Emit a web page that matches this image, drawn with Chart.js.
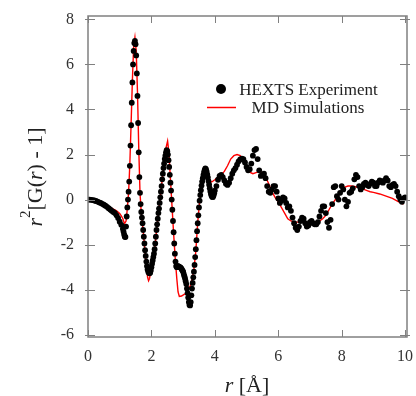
<!DOCTYPE html>
<html>
<head>
<meta charset="utf-8">
<script src="https://cdn.jsdelivr.net/npm/chart.js@4.4.1/dist/chart.umd.min.js"></script>
<style>
  html, body { margin: 0; padding: 0; background: #fff; }
  #wrap { width: 416px; height: 396px; position: relative; }
</style>
</head>
<body>
<div id="wrap"><canvas id="gr_chart"></canvas></div>
<script>
// HEXTS experiment: r (Å) and r^2[G(r)-1]
const expR = [
  0, 0.05, 0.1, 0.15, 0.2, 0.25, 0.3, 0.35, 0.4, 0.45, 0.5, 0.55, 0.6, 0.65, 0.7, 0.75, 0.8, 0.85, 0.9, 0.95, 1.0, 1.05, 1.1,
  1.12, 1.14, 1.16, 1.18, 1.2, 1.22, 1.24, 1.26, 1.28, 1.3, 1.32, 1.34, 1.36, 1.38, 1.4, 1.42, 1.44, 1.46, 1.48, 1.5,
  1.52, 1.54, 1.56, 1.58, 1.6, 1.62, 1.64, 1.66, 1.68, 1.7, 1.72, 1.74, 1.76, 1.78, 1.8, 1.82, 1.84, 1.86, 1.88, 1.9,
  1.92, 1.94, 1.96, 1.98, 2.0, 2.02, 2.04, 2.06, 2.08, 2.1, 2.12, 2.14, 2.16, 2.18, 2.2, 2.22, 2.24, 2.26, 2.28, 2.3,
  2.32, 2.34, 2.36, 2.38, 2.4, 2.42, 2.44, 2.46, 2.48, 2.5, 2.52, 2.54, 2.56, 2.58, 2.6, 2.62, 2.64, 2.66, 2.68, 2.7,
  2.72, 2.74, 2.76, 2.78, 2.8, 2.82, 2.84, 2.86, 2.88, 2.9, 2.92, 2.94, 2.96, 2.98, 3.0, 3.02, 3.04, 3.06, 3.08, 3.1,
  3.12, 3.14, 3.16, 3.18, 3.2, 3.22, 3.24, 3.26, 3.28, 3.3, 3.32, 3.34, 3.36, 3.38, 3.4, 3.42, 3.44, 3.46, 3.48, 3.5,
  3.52, 3.54, 3.56, 3.58, 3.6, 3.62, 3.64, 3.66, 3.68, 3.7, 3.72, 3.74, 3.76, 3.78, 3.8, 3.82, 3.84, 3.86, 3.88, 3.9,
  3.92, 3.94, 3.96, 3.98, 4.0,
  4.05, 4.1, 4.15, 4.2, 4.25, 4.3, 4.35, 4.4, 4.45, 4.5, 4.55, 4.6, 4.65, 4.7, 4.75, 4.8, 4.85, 4.9, 4.95, 5.0,
  5.05, 5.1, 5.15, 5.2, 5.25, 5.3, 5.35, 5.4, 5.45, 5.5, 5.55, 5.6, 5.65, 5.7, 5.75, 5.8, 5.85, 5.9, 5.95, 6.0,
  6.05, 6.1, 6.15, 6.2, 6.25, 6.3, 6.35, 6.4, 6.45, 6.5, 6.55, 6.6, 6.65, 6.7, 6.75, 6.8, 6.85, 6.9, 6.95, 7.0,
  7.05, 7.1, 7.15, 7.2, 7.25, 7.3, 7.35, 7.4, 7.45, 7.5, 7.55, 7.6, 7.65, 7.7, 7.75, 7.8, 7.85, 7.9, 7.95, 8.0,
  8.05, 8.1, 8.15, 8.2, 8.25, 8.3, 8.35, 8.4, 8.45, 8.5, 8.55, 8.6, 8.65, 8.7, 8.75, 8.8, 8.85, 8.9, 8.95, 9.0,
  9.05, 9.1, 9.15, 9.2, 9.25, 9.3, 9.35, 9.4, 9.45, 9.5, 9.55, 9.6, 9.65, 9.7, 9.75, 9.8, 9.85, 9.9, 9.95, 10.0
];
const expG = [
  0, 0, -0.01, -0.02, -0.04, -0.06, -0.09, -0.12, -0.15, -0.19, -0.23, -0.27, -0.32, -0.38, -0.44, -0.5, -0.55, -0.6, -0.7, -0.82, -0.98, -1.12, -1.3,
  -1.42, -1.55, -1.65, -1.66, -1.2, -0.75, -0.35, 0.0, 0.35, 0.8, 1.5, 2.4, 3.3, 4.3, 5.2, 6.0, 6.6, 6.95, 7.05, 6.9,
  6.4, 5.6, 4.6, 3.4, 2.1, 1.0, 0.3, -0.2, -0.55, -0.8, -1.05, -1.35, -1.65, -1.95, -2.25, -2.5, -2.75, -2.95, -3.1, -3.2,
  -3.25, -3.27, -3.25, -3.15, -3.0, -2.85, -2.7, -2.55, -2.4, -2.2, -1.95, -1.65, -1.35, -1.1, -0.85, -0.6, -0.4, -0.15, 0.1, 0.35,
  0.6, 0.9, 1.15, 1.4, 1.6, 1.8, 1.95, 2.1, 2.2, 2.15, 2.0, 1.75, 1.45, 1.1, 0.75, 0.4, 0.0, -0.45, -0.95, -1.45,
  -1.95, -2.4, -2.75, -2.95, -3.0, -2.95, -2.95, -2.97, -3.0, -3.0, -3.02, -3.05, -3.1, -3.15, -3.2, -3.3, -3.4, -3.5, -3.62, -3.75,
  -3.95, -4.15, -4.35, -4.55, -4.68, -4.7, -4.55, -4.25, -3.95, -3.7, -3.45, -3.2, -2.9, -2.55, -2.2, -1.8, -1.4, -1.05, -0.7, -0.35,
  -0.05, 0.2, 0.42, 0.62, 0.8, 0.95, 1.1, 1.22, 1.32, 1.38, 1.35, 1.25, 1.12, 0.98, 0.82, 0.66, 0.5, 0.36, 0.24, 0.16,
  0.12, 0.12, 0.18, 0.28, 0.4,
  0.6, 0.88, 1.05, 1.1, 1.0, 0.85, 0.7, 0.65, 0.75, 0.95, 1.15, 1.3, 1.4, 1.55, 1.7, 1.78, 1.82, 1.8, 1.65, 1.45,
  1.3, 1.35, 1.6, 1.95, 2.2, 2.25, 1.8, 1.3, 1.05, 1.1, 1.15, 0.95, 0.6, 0.35, 0.3, 0.45, 0.6, 0.6, 0.35, 0.05,
  -0.15, -0.05, 0.1, 0.05, -0.15, -0.35, -0.3, -0.5, -0.8, -1.05, -1.25, -1.35, -1.2, -0.95, -0.8, -0.85, -1.05, -1.2, -1.15, -1.0,
  -0.95, -1.05, -1.1, -1.1, -1.0, -0.75, -0.5, -0.3, -0.3, -0.6, -1.0, -1.25, -0.9, -0.2, 0.55, 0.6, 0.15, 0.0, 0.3, 0.6,
  0.45, 0.0, -0.3, -0.1, 0.3, 0.35, 0.5, 0.9, 1.1, 1.0, 0.6, 0.45, 0.55, 0.7, 0.75, 0.65, 0.6, 0.7, 0.8, 0.75,
  0.6, 0.6, 0.75, 0.85, 0.8, 0.75, 0.85, 0.95, 0.85, 0.6, 0.55, 0.65, 0.7, 0.6, 0.35, 0.15, 0.0, -0.1, 0.05, 0.1
];

// MD simulations
const mdR = [
  0, 0.2, 0.4, 0.6, 0.7, 0.8, 0.9, 1.0, 1.05, 1.1, 1.15, 1.2, 1.24, 1.28, 1.32, 1.36, 1.4, 1.44, 1.48, 1.52,
  1.56, 1.6, 1.64, 1.68, 1.72, 1.76, 1.8, 1.84, 1.88, 1.91, 1.94, 1.98, 2.02, 2.06, 2.1, 2.16, 2.22, 2.28, 2.34, 2.4,
  2.46, 2.51, 2.55, 2.6, 2.65, 2.7, 2.75, 2.8, 2.84, 2.88, 2.95, 3.02, 3.1, 3.16, 3.22, 3.28, 3.34, 3.4, 3.46, 3.52,
  3.58, 3.64, 3.7, 3.76, 3.82, 3.9, 4.0, 4.1, 4.2, 4.3, 4.4, 4.5, 4.6, 4.7, 4.8, 4.9, 5.0, 5.1, 5.2, 5.3,
  5.4, 5.5, 5.6, 5.7, 5.8, 5.9, 6.0, 6.1, 6.2, 6.3, 6.4, 6.5, 6.7, 6.9, 7.1, 7.3, 7.4, 7.5, 7.6, 7.7,
  7.8, 7.9, 8.0, 8.1, 8.2, 8.3, 8.4, 8.5, 8.6, 8.7, 8.8, 8.9, 9.0, 9.2, 9.4, 9.6, 9.8, 9.95
];
const mdG = [
  0, -0.03, -0.12, -0.28, -0.35, -0.42, -0.5, -0.62, -0.72, -0.85, -1.07, -0.95, -0.4, 0.3, 1.6, 3.4, 5.3, 6.8, 7.2, 6.6,
  4.8, 2.3, 0.3, -0.6, -1.1, -1.7, -2.35, -2.95, -3.45, -3.6, -3.5, -3.2, -2.9, -2.6, -2.25, -1.4, -0.6, 0.1, 0.9, 1.65,
  2.3, 2.6, 2.1, 0.9, -0.3, -1.5, -2.6, -3.5, -4.1, -4.3, -4.28, -4.22, -4.15, -4.0, -3.85, -3.55, -3.1, -2.3, -1.0, -0.1,
  0.55, 1.0, 1.2, 1.05, 0.85, 0.78, 0.88, 1.0, 1.1, 1.25, 1.5, 1.8, 1.95, 2.0, 1.95, 1.72, 1.45, 1.22, 1.15, 1.2,
  1.25, 1.2, 1.0, 0.7, 0.35, 0.1, -0.1, -0.35, -0.6, -0.85, -0.95, -1.0, -1.0, -1.02, -1.0, -0.95, -0.85, -0.7, -0.45, -0.2,
  0.0, 0.2, 0.4, 0.55, 0.6, 0.6, 0.58, 0.55, 0.5, 0.45, 0.4, 0.35, 0.32, 0.25, 0.15, 0.05, -0.1, -0.2
];

const xTicks = [0, 2, 4, 6, 8, 10];
const yTicks = [-6, -4, -2, 0, 2, 4, 6, 8];

const serif = '"Liberation Serif", "Times New Roman", serif';
const frameColor = '#808080';

const exp_pts = expR.map((r, i) => ({ x: r, y: expG[i] }));
const md_pts = mdR.map((r, i) => ({ x: r, y: mdG[i] }));

// frame, inward ticks, axis titles and legend
const decorations = {
  id: 'decorations',
  afterDraw(chart) {
    const ctx = chart.ctx;
    const a = chart.chartArea;
    const xs = chart.scales.x, ys = chart.scales.y;
    ctx.save();
    ctx.strokeStyle = frameColor;
    ctx.lineWidth = 1.5;
    ctx.strokeRect(a.left, a.top, a.right - a.left, a.bottom - a.top);
    ctx.lineWidth = 1;
    ctx.beginPath();
    xTicks.forEach(v => {
      const px = Math.round(xs.getPixelForValue(v)) + 0.5;
      ctx.moveTo(px, a.bottom); ctx.lineTo(px, a.bottom - 7);
      ctx.moveTo(px, a.top); ctx.lineTo(px, a.top + 7);
    });
    yTicks.forEach(v => {
      const py = Math.round(ys.getPixelForValue(v)) + 0.5;
      ctx.moveTo(a.left - 3, py); ctx.lineTo(a.left + 7, py);
      ctx.moveTo(a.right + 3, py); ctx.lineTo(a.right - 7, py);
    });
    ctx.stroke();

    // y title: r^2[G(r) - 1]
    ctx.fillStyle = '#222';
    ctx.textBaseline = 'alphabetic';
    ctx.textAlign = 'left';
    const big = '22px ' + serif, bigIt = 'italic 22px ' + serif, small = '15px ' + serif;
    const parts = [
      { t: 'r', f: bigIt, dy: 0 },
      { t: '2', f: small, dy: -12 },
      { t: '[G(', f: big, dy: 0 },
      { t: 'r', f: bigIt, dy: 0 },
      { t: ') - 1]', f: big, dy: 0 }
    ];
    let w = 0;
    parts.forEach(p => { ctx.font = p.f; p.w = ctx.measureText(p.t).width; w += p.w; });
    ctx.translate(42, 177);
    ctx.rotate(-Math.PI / 2);
    let x = -w / 2;
    parts.forEach(p => { ctx.font = p.f; ctx.fillText(p.t, x, p.dy); x += p.w; });
    ctx.setTransform(1, 0, 0, 1, 0, 0);

    // x title: r [Å]
    const xp = [
      { t: 'r', f: bigIt },
      { t: ' [Å]', f: big }
    ];
    w = 0;
    xp.forEach(p => { ctx.font = p.f; p.w = ctx.measureText(p.t).width; w += p.w; });
    x = 247 - w / 2;
    xp.forEach(p => { ctx.font = p.f; ctx.fillText(p.t, x, 392); x += p.w; });

    // legend
    ctx.fillStyle = '#000';
    ctx.beginPath();
    ctx.arc(221, 89, 5, 0, Math.PI * 2);
    ctx.fill();
    ctx.strokeStyle = '#ff0000';
    ctx.lineWidth = 1.5;
    ctx.beginPath();
    ctx.moveTo(207, 107.5); ctx.lineTo(236, 107.5);
    ctx.stroke();
    ctx.fillStyle = '#222';
    ctx.font = '17px ' + serif;
    ctx.textAlign = 'center';
    ctx.fillText('HEXTS Experiment', 308.5, 95);
    ctx.fillText('MD Simulations', 308, 113);
    ctx.restore();
  }
};

const gr_ctx = document.getElementById('gr_chart').getContext('2d');

new Chart(gr_ctx, {
  type: 'scatter',
  data: {
    datasets: [{
      label: 'HEXTS Experiment',
      data: exp_pts,
      showLine: false,
      pointRadius: 2.9,
      pointBackgroundColor: '#000',
      pointBorderWidth: 0,
      order: 0
    }, {
      label: 'MD Simulations',
      data: md_pts,
      showLine: true,
      borderColor: '#ff0000',
      borderWidth: 1.4,
      pointRadius: 0,
      tension: 0,
      order: 1
    }]
  },
  options: {
    responsive: true,
    maintainAspectRatio: false,
    animation: false,
    layout: { padding: { top: 16, right: 9, left: 0, bottom: 0 } },
    plugins: {
      legend: { display: false },
      tooltip: { enabled: false }
    },
    scales: {
      x: {
        type: 'linear',
        min: 0,
        max: 10.06,
        afterFit: s => { s.height = 59; },
        afterBuildTicks: s => { s.ticks = xTicks.map(v => ({ value: v })); },
        grid: { display: false },
        border: { display: false },
        ticks: {
          color: '#333',
          padding: 2,
          maxRotation: 0,
          font: { family: serif, size: 16 }
        }
      },
      y: {
        type: 'linear',
        min: -6.1,
        max: 8.15,
        afterFit: s => { s.width = 88; },
        afterBuildTicks: s => { s.ticks = yTicks.map(v => ({ value: v })); },
        grid: { display: false },
        border: { display: false },
        ticks: {
          color: '#333',
          padding: 6,
          font: { family: serif, size: 16 }
        }
      }
    }
  },
  plugins: [decorations]
});
</script>
</body>
</html>
